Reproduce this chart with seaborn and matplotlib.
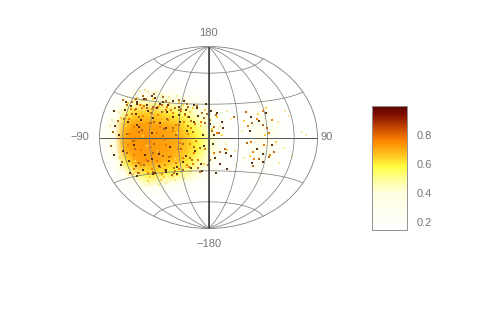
import numpy as np
import matplotlib
matplotlib.use('Agg')
import matplotlib.pyplot as plt
from matplotlib.colors import LinearSegmentedColormap, Normalize
from matplotlib.cm import ScalarMappable
import seaborn as sns

# smoothed sky map (rows = latitude, columns = longitude)
lons = [-180, -165, -150, -135, -120, -105, -90, -75, -60, -45, -30, -15, 0,
        15, 30, 45, 60, 75, 90, 105, 120, 135, 150, 165, 180]
lats = [-60, -50, -40, -30, -20, -10, 0, 10, 20, 30, 40, 50, 60]
density = [
    [.15, .15, .15, .15, .15, .15, .15, .15, .15, .15, .15, .15, .15, .15, .15, .15, .15, .15, .15, .15, .15, .15, .15, .15, .15],
    [.15, .15, .15, .15, .15, .15, .15, .15, .15, .15, .15, .15, .15, .15, .15, .15, .15, .15, .15, .15, .15, .15, .15, .15, .15],
    [.15, .15, .17, .21, .26, .30, .30, .28, .26, .24, .22, .20, .18, .16, .15, .15, .15, .15, .16, .15, .15, .15, .15, .15, .15],
    [.15, .17, .23, .38, .52, .60, .62, .60, .58, .54, .48, .38, .27, .18, .15, .15, .15, .17, .18, .16, .15, .15, .15, .15, .15],
    [.15, .20, .31, .60, .70, .71, .71, .70, .68, .66, .60, .50, .36, .22, .16, .15, .17, .22, .24, .18, .15, .15, .15, .15, .15],
    [.16, .23, .35, .68, .72, .73, .72, .72, .71, .69, .65, .57, .43, .26, .17, .15, .20, .28, .30, .22, .15, .15, .15, .15, .15],
    [.16, .23, .35, .69, .73, .73, .73, .72, .71, .70, .65, .58, .45, .27, .17, .15, .20, .29, .32, .24, .16, .15, .15, .15, .15],
    [.16, .23, .34, .66, .71, .72, .71, .71, .70, .67, .60, .52, .38, .24, .16, .15, .20, .27, .29, .22, .16, .15, .15, .15, .15],
    [.15, .21, .30, .52, .63, .65, .65, .64, .61, .57, .50, .41, .30, .20, .16, .15, .17, .22, .24, .19, .15, .15, .15, .15, .15],
    [.15, .17, .22, .30, .38, .42, .44, .44, .42, .38, .33, .27, .21, .16, .15, .15, .15, .16, .17, .16, .15, .15, .15, .15, .15],
    [.15, .15, .16, .18, .20, .21, .22, .22, .21, .19, .18, .17, .16, .15, .15, .15, .15, .15, .15, .15, .15, .15, .15, .15, .15],
    [.15, .15, .15, .15, .15, .15, .15, .15, .15, .15, .15, .15, .15, .15, .15, .15, .15, .15, .15, .15, .15, .15, .15, .15, .15],
    [.15, .15, .15, .15, .15, .15, .15, .15, .15, .15, .15, .15, .15, .15, .15, .15, .15, .15, .15, .15, .15, .15, .15, .15, .15],
]

# individual dark sources
dark_lon = [-140, -132, -128, -124, -120, -118, -114, -110, -108, -104, -100, -98, -95, -92, -88, -84, -80, -78,
            -74, -70, -66, -62, -60, -56, -52, -48, -44, -40, -36, -32, -28, -24, -20, -16, -12, -8, -4, 2, 6, 10,
            14, 18, 22, 26, 30, -130, -126, -116, -106, -96, -86, -76, -68, -58, -46, -34, -22, -10, 4, 12,
            -136, -122, -112, -102, -90, -82, -72, -64, -54, -42, -30, -18, -6, 8, 20, 35, 62, 70, 78, 85, 92, 98,
            -150, -145, -155, -148, -160, -138, -142, 66, 74, 88]
dark_lat = [20, 24, 12, 28, -22, 18, 31, -26, 8, 26, -14, 22, 33, -30, 16, 25, -24, 30,
            12, -28, 22, -20, 32, 18, -26, 27, 14, -22, 24, 6, -27, 29, -12, 19, -24, 2, 30, 12, -6, -18,
            22, -24, 8, -14, -28, -18, -30, -6, 14, -30, 4, -14, 28, -8, 20, -16, 14, -30, 24, -32,
            -10, 26, 10, 34, -18, 28, -30, 8, -32, 32, 18, 26, -8, 2, 14, -16, 6, -22, 14, -14, 20, -6,
            8, 26, -12, -20, 18, -27, 2, 18, -10, -20]

# brown grain, mostly over the bright patch
brown_lon = [-133, -127, -121, -115, -109, -103, -97, -91, -85, -79, -73, -67, -61, -55, -49, -43, -37, -31, -25, -19,
             -13, -7, -1, 5, 11, 17, -131, -125, -119, -113, -107, -101, -95, -89, -83, -77, -71, -65, -59, -53,
             -47, -41, -35, -29, -23, -17, -11, -5, 3, 9, -129, -117, -105, -93, -81, -69, -57, -45, -33, -21,
             -137, -123, -111, -99, -87, -75, -63, -51, -39, -27, -15, -3, 15, 25, 40, 58, 67, 80, 90, 102,
             -147, -153, -143, -139, -158, -151, 72, 84, 95, 60]
brown_lat = [27, 3, 22, -9, 31, 6, -19, 25, 13, -25, 31, 7, -17, 26, 2, -29, 21, 10, -20, 28,
             -9, 17, -25, 6, 20, -13, -12, 18, 33, -20, 4, 24, -29, 12, -5, 28, -16, 16, -31, 8,
             24, -10, 30, -18, 5, -27, 22, 13, -20, 9, 30, -3, -22, 20, 35, 1, -27, 11, 27, -8,
             14, -28, 16, 36, -13, 22, -33, 33, -6, 15, -31, 21, 4, -10, 18, -5, 12, -18, 8, -12,
             12, 4, -18, 24, -6, 27, -24, 10, -16, 22]

# brighter grain on top of the smooth map
grain_lon = [-128, -122, -116, -110, -104, -98, -92, -86, -80, -74, -68, -62, -56, -50, -44, -38, -32, -26, -20,
             -126, -118, -112, -106, -100, -94, -88, -82, -76, -70, -64, -58, -52, -46, -40, -34, -28, -22, -16,
             -124, -114, -102, -90, -78, -66, -54, -42, -30, -18, -130, -108, -84, -60, -36, -120, -96, -72, -48, -24,
             -134, -126, -116, -104, -92, -80, -68, -56, -44, -32, -12, -6, 2, 8, 12, 60, 68, 76, 84, 92, 100, 72, 88, 64, 96]
grain_lat = [14, 21, 8, 24, 17, 22, 12, 25, 19, 9, 24, 15, 21, 11, 23, 14, 18, 8, 12,
             -6, -14, -22, -10, -18, -26, -8, -20, -12, -24, -6, -16, -22, -10, -18, -24, -6, -14, -20,
             3, -3, 5, -4, 4, -2, 6, -5, 3, -3, 22, 25, 26, 24, 20, -28, -30, -28, -28, -24,
             17, -24, 26, -29, 24, -31, 26, -29, 25, -26, 14, -10, 16, -14, 4, 10, -12, 16, -6, 4, 14, -18, 22, -4, -14]

# yellow grain, breaking up the bright patch and its rim
yellow_lon = [-131, -119, -107, -95, -83, -71, -59, -47, -35, -23, -11, -125, -113, -101, -89, -77, -65, -53, -41, -29,
              -17, -5, -137, -129, -117, -103, -91, -79, -67, -55, -43, -31, -19, -7, 5, 13, -142, -146, -139, -133,
              -127, -111, -97, -85, -73, -61, -49, -37, -25, 20, 28, 55, 65, 78, 86, 94, 104]
yellow_lat = [9, -18, 20, -7, 27, 14, -24, 4, 25, -15, 10, -27, 26, 1, 19, -11, 28, -19, 17, 23,
              -4, 25, -2, 29, 30, -32, 28, -34, 30, -33, 29, -30, 28, -24, 8, 18, 14, -15, 26, -28,
              31, -35, 32, -36, 31, -34, 31, -26, 26, 2, -11, 14, -16, 20, 2, 24, -4]

pale_lon = [-160, -155, -150, -146, -142, -152, -158, -148, -144, -140, -136, -130, -122, -112, -98, -84, -70, -56,
            -42, -110, -94, -78, -60, -44, 18, 26, 34, 40, 50, 56, 110, 118, 126, 135, 150, 158, 30, 44, 115, 130]
pale_lat = [8, -6, 18, -14, 24, -22, 12, 30, 4, -28, 33, 36, 38, 37, 38, 36, 35, 37,
            33, -38, -40, -39, -37, -36, 10, -6, 16, -12, 6, -18, 12, -8, 20, -14, 4, 2, 24, -24, -20, 16]

cbar_ticks = [0.2, 0.4, 0.6, 0.8]
cmap_stops = [(0.0, '#ffffff'), (0.30, '#ffffe0'), (0.42, '#ffff90'), (0.51, '#ffff40'), (0.60, '#ffc820'),
              (0.72, '#ff8400'), (0.82, '#c84a00'), (0.92, '#881400'), (1.0, '#5a0000')]
vmin, vmax = 0.145, 1.0

sns.set_style('white')
plt.rcParams['font.family'] = ['Liberation Sans', 'DejaVu Sans']

hot_map = LinearSegmentedColormap.from_list('sky', cmap_stops)
norm = Normalize(vmin, vmax)

fig = plt.figure(figsize=(4.91, 3.27), dpi=100)
ax = fig.add_axes([99.5 / 491, 1 - 228.5 / 327, 218 / 491, 182 / 327], projection='hammer')
ax.set_aspect('auto')

lon_g, lat_g = np.meshgrid(np.radians(lons), np.radians(lats))
ax.pcolormesh(lon_g, lat_g, np.array(density), cmap=hot_map, norm=norm, shading='gouraud', zorder=1)

sns.scatterplot(x=np.radians(pale_lon), y=np.radians(pale_lat), color='#ffe8a0', marker='s', s=2,
                linewidth=0, ax=ax, zorder=2)
sns.scatterplot(x=np.radians(yellow_lon), y=np.radians(yellow_lat), color='#ffd040', marker='s', s=2.5,
                linewidth=0, ax=ax, zorder=2)
sns.scatterplot(x=np.radians(grain_lon), y=np.radians(grain_lat), color='#f07c00', marker='s', s=2.5,
                linewidth=0, ax=ax, zorder=2)
sns.scatterplot(x=np.radians(brown_lon), y=np.radians(brown_lat), color='#b06a20', marker='s', s=0.9,
                linewidth=0, ax=ax, zorder=3)
sns.scatterplot(x=np.radians(dark_lon), y=np.radians(dark_lat), color='#5a3414', marker='s', s=0.7,
                linewidth=0, ax=ax, zorder=3)

# graticule
ax.set_longitude_grid(45)
ax.set_latitude_grid(30)
ax.set_longitude_grid_ends(90)
ax.set_xticklabels([])
ax.set_yticklabels([])
ax.grid(True, color='#808080', lw=0.55, zorder=4)
ax.set_axisbelow(False)
ax.plot([0, 0], np.radians([-89.9, 89.9]), color='#333333', lw=1.1, zorder=5)
ax.plot(np.radians([-179.9, 179.9]), [0, 0], color='#555555', lw=0.7, zorder=5)
for spine in ax.spines.values():
    spine.set_color('#808080')
    spine.set_linewidth(0.6)

label_color = '#777777'
fig.text(208.5 / 491, 1 - 33 / 327, '180', ha='center', va='center', fontsize=8, color=label_color)
fig.text(208.5 / 491, 1 - 244 / 327, '\u2212180', ha='center', va='center', fontsize=8, color=label_color)
fig.text(80 / 491, 1 - 137 / 327, '\u221290', ha='center', va='center', fontsize=8, color=label_color)
fig.text(327 / 491, 1 - 137 / 327, '90', ha='center', va='center', fontsize=8, color=label_color)

# colour bar
cax = fig.add_axes([371.5 / 491, 1 - 230 / 327, 35.5 / 491, 124 / 327])
cb = fig.colorbar(ScalarMappable(norm=norm, cmap=hot_map), cax=cax)
cb.set_ticks(cbar_ticks)
cb.ax.tick_params(length=0, labelsize=8, labelcolor=label_color, pad=7)
cb.outline.set_edgecolor('#909090')
cb.outline.set_linewidth(0.7)

fig.savefig('out.png', dpi=100)
